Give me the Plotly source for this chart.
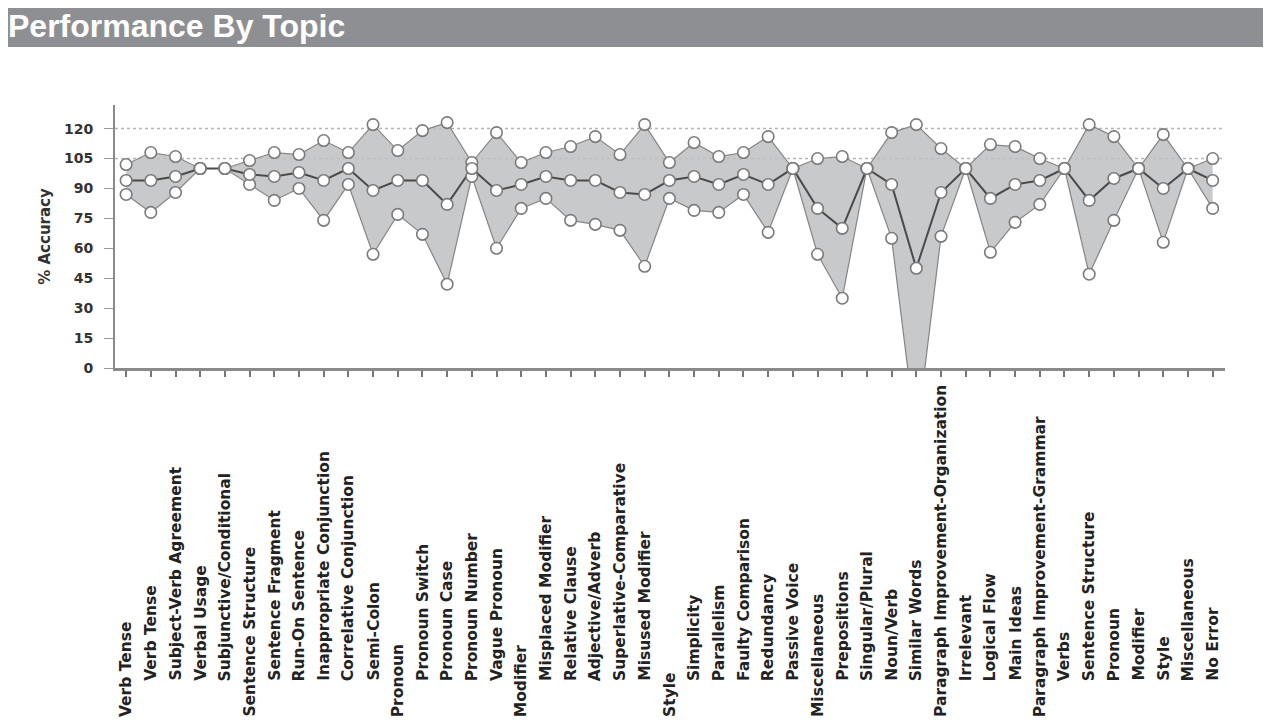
import plotly.graph_objects as go

topics = [
    "Verb Tense", "Verb Tense", "Subject-Verb Agreement", "Verbal Usage",
    "Subjunctive/Conditional", "Sentence Structure", "Sentence Fragment",
    "Run-On Sentence", "Inappropriate Conjunction", "Correlative Conjunction",
    "Semi-Colon", "Pronoun", "Pronoun Switch", "Pronoun Case", "Pronoun Number",
    "Vague Pronoun", "Modifier", "Misplaced Modifier", "Relative Clause",
    "Adjective/Adverb", "Superlative-Comparative", "Misused Modifier", "Style",
    "Simplicity", "Parallelism", "Faulty Comparison", "Redundancy",
    "Passive Voice", "Miscellaneous", "Prepositions", "Singular/Plural",
    "Noun/Verb", "Similar Words", "Paragraph Improvement-Organization",
    "Irrelevant", "Logical Flow", "Main Ideas",
    "Paragraph Improvement-Grammar", "Verbs", "Sentence Structure", "Pronoun",
    "Modifier", "Style", "Miscellaneous", "No Error",
]
# group headings (printed lower than their sub-topics)
is_heading = [
    1, 0, 0, 0, 0, 1, 0, 0, 0, 0, 0, 1, 0, 0, 0, 0, 1, 0, 0, 0, 0, 0, 1,
    0, 0, 0, 0, 0, 1, 0, 0, 0, 0, 1, 0, 0, 0, 1, 0, 0, 0, 0, 0, 0, 0,
]

upper = [
    102, 108, 106, 100, 100, 104, 108, 107, 114, 108, 122, 109, 119, 123,
    103, 118, 103, 108, 111, 116, 107, 122, 103, 113, 106, 108, 116, 100,
    105, 106, 100, 118, 122, 110, 100, 112, 111, 105, 100, 122, 116, 100,
    117, 100, 105,
]
mean = [
    94, 94, 96, 100, 100, 97, 96, 98, 94, 100, 89, 94, 94, 82,
    100, 89, 92, 96, 94, 94, 88, 87, 94, 96, 92, 97, 92, 100,
    80, 70, 100, 92, 50, 88, 100, 85, 92, 94, 100, 84, 95, 100,
    90, 100, 94,
]
lower = [
    87, 78, 88, 100, 100, 92, 84, 90, 74, 92, 57, 77, 67, 42,
    96, 60, 80, 85, 74, 72, 69, 51, 85, 79, 78, 87, 68, 100,
    57, 35, 100, 65, -35, 66, 100, 58, 73, 82, 100, 47, 74, 100,
    63, 100, 80,
]
y_ticks = [0, 15, 30, 45, 60, 75, 90, 105, 120]
ref_levels = [105, 120]

x = list(range(len(topics)))

# page is shown with an 8px body margin: work in figure pixels
OFF = 8
W, H = 1271 - OFF, 722 - OFF
ML, MR, MT, MB = 115 - OFF, 46, 105 - OFF, 354
plot_h = H - MT - MB
plot_w = W - ML - MR


def py(px):  # reference pixel row -> paper y
    return (H - MB - (px - OFF)) / plot_h


def pxx(px):  # reference pixel col -> paper x
    return ((px - OFF) - ML) / plot_w


LINE_GRAY = "#858585"
FILL_GRAY = "rgba(190,191,194,0.85)"
marker = dict(size=11.5, color="white", line=dict(color="#7a7a7a", width=1.6))

fig = go.Figure()
fig.add_trace(go.Scatter(x=x, y=lower, mode="lines",
                         line=dict(color=LINE_GRAY, width=1.2),
                         hoverinfo="skip", showlegend=False))
fig.add_trace(go.Scatter(x=x, y=upper, mode="lines", fill="tonexty",
                         fillcolor=FILL_GRAY,
                         line=dict(color=LINE_GRAY, width=1.2),
                         hoverinfo="skip", showlegend=False))
fig.add_trace(go.Scatter(x=x, y=mean, mode="lines",
                         line=dict(color="#4a4a4a", width=2),
                         hoverinfo="skip", showlegend=False))
for series in (upper, lower, mean):
    fig.add_trace(go.Scatter(x=x, y=series, mode="markers", marker=marker,
                             customdata=topics, cliponaxis=True,
                             hovertemplate="%{customdata}: %{y}<extra></extra>",
                             showlegend=False))

shapes = [
    dict(type="rect", xref="paper", yref="paper",
         x0=pxx(0), x1=pxx(1271), y0=py(47), y1=py(0),
         fillcolor="#8e8f93", line=dict(width=0), layer="below"),
]
for lvl in ref_levels:
    shapes.append(dict(type="line", xref="paper", yref="y",
                       x0=0, x1=1, y0=lvl, y1=lvl,
                       line=dict(color="#b5b5b5", width=1.5, dash="dot"),
                       layer="below"))

annotations = []
for i, name in enumerate(topics):
    annotations.append(dict(
        x=i, xref="x", y=py(719 if is_heading[i] else 683), yref="paper",
        text=name, textangle=-90, showarrow=False,
        xanchor="center", yanchor="bottom",
        font=dict(family="DejaVu Sans", size=15.5, color="#222",
                  weight="bold"),
    ))

fig.update_layout(
    width=W, height=H,
    margin=dict(l=ML, r=MR, t=MT, b=MB),
    paper_bgcolor="white", plot_bgcolor="white",
    title=dict(text="Performance By Topic", x=0, xanchor="left",
               y=1 - 18 / H, yanchor="middle", yref="container",
               font=dict(family="Liberation Sans", size=32, color="white",
                         weight="bold")),
    shapes=shapes, annotations=annotations,
    xaxis=dict(range=[-0.45, 44.5], tickvals=x, showticklabels=False,
               ticks="outside", ticklen=6, tickcolor="#777", tickwidth=1.5,
               showline=True, linecolor="#8a8a8a", linewidth=3,
               showgrid=False, zeroline=False),
    yaxis=dict(range=[0, plot_h / 1.995], tickvals=y_ticks,
               ticks="outside", ticklen=9, tickcolor="#999", tickwidth=1,
               ticklabelstandoff=8,
               showline=True, linecolor="#8a8a8a", linewidth=2,
               showgrid=False, zeroline=False,
               tickfont=dict(family="DejaVu Sans", size=14,
                             color="#333", weight="bold"),
               title=dict(text="% Accuracy", standoff=10,
                          font=dict(family="DejaVu Sans", size=15,
                                    color="#333", weight="bold"))),
)

fig.write_html("out.html")
